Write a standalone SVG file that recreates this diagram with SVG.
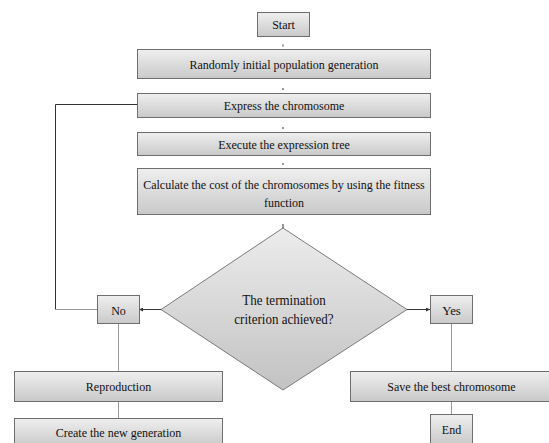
<svg xmlns="http://www.w3.org/2000/svg" width="549" height="443" viewBox="0 0 549 443">
<defs>
<linearGradient id="g" x1="0" y1="0" x2="0" y2="1">
<stop offset="0" stop-color="#efefef"/>
<stop offset="1" stop-color="#c9c9c9"/>
</linearGradient>
<linearGradient id="gd" x1="0" y1="0" x2="0" y2="1">
<stop offset="0" stop-color="#ececec"/>
<stop offset="1" stop-color="#c2c2c2"/>
</linearGradient>
<marker id="ah" markerWidth="4" markerHeight="4" refX="4" refY="2" orient="auto" markerUnits="userSpaceOnUse">
<path d="M0,0 L4,2 L0,4 z" fill="#333"/>
</marker>
<style>
.b{fill:url(#g);stroke:#6e6e6e;stroke-width:1}
.d{fill:url(#gd);stroke:#7a7a7a;stroke-width:1}
.t{font-family:"Liberation Serif","Times New Roman",serif;font-size:13.5px;fill:#111;text-anchor:middle}
.t13{font-family:"Liberation Serif","Times New Roman",serif;font-size:14px;fill:#111;text-anchor:middle}
.c{fill:none;stroke:#333;stroke-width:1}
.cl{fill:none;stroke:#999;stroke-width:1}
</style>
</defs>
<rect width="549" height="443" fill="#ffffff"/>
<g id="connectors">
<line class="c" x1="283" y1="44.5" x2="283" y2="46.5"/>
<line class="c" x1="283" y1="88" x2="283" y2="90"/>
<line class="c" x1="283" y1="127" x2="283" y2="129"/>
<line class="c" x1="283" y1="163" x2="283" y2="165"/>
<line class="c" x1="283" y1="224" x2="283" y2="228"/>
<polyline class="c" points="137,104.5 55.5,104.5 55.5,309.5"/>
<line class="cl" x1="55.5" y1="309.5" x2="97" y2="309.5"/>
<line class="c" x1="161" y1="309.5" x2="139" y2="309.5" marker-end="url(#ah)"/>
<line class="c" x1="407" y1="309.5" x2="430" y2="309.5" marker-end="url(#ah)"/>
<line class="cl" x1="118.5" y1="323" x2="118.5" y2="371"/>
<line class="cl" x1="118.5" y1="401" x2="118.5" y2="418"/>
<line class="cl" x1="451.5" y1="323" x2="451.5" y2="371"/>
<line class="cl" x1="451.5" y1="401" x2="451.5" y2="414"/>
</g>
<g id="start">
<rect class="b" x="257.5" y="12.5" width="52" height="24"/>
<text class="t" x="283.5" y="29" textLength="22.7" lengthAdjust="spacingAndGlyphs">Start</text>
</g>
<g id="random">
<rect class="b" x="137.5" y="49.5" width="293" height="29"/>
<text class="t" x="284" y="68.5" textLength="189" lengthAdjust="spacingAndGlyphs">Randomly initial population generation</text>
</g>
<g id="express">
<rect class="b" x="137.5" y="93.5" width="293" height="24"/>
<text class="t" x="284" y="110" textLength="120.6" lengthAdjust="spacingAndGlyphs">Express the chromosome</text>
</g>
<g id="execute">
<rect class="b" x="137.5" y="132.5" width="293" height="23"/>
<text class="t" x="284" y="148.5" textLength="131.6" lengthAdjust="spacingAndGlyphs">Execute the expression tree</text>
</g>
<g id="calculate">
<rect class="b" x="137.5" y="168.5" width="293" height="46"/>
<text class="t" x="284" y="188.5" textLength="281.6" lengthAdjust="spacingAndGlyphs">Calculate the cost of the chromosomes by using the fitness</text>
<text class="t" x="284" y="206.5" textLength="40" lengthAdjust="spacingAndGlyphs">function</text>
</g>
<g id="decision">
<polygon class="d" points="283,228 407,309.5 283,390 161,309.5"/>
<text class="t13" x="284" y="305" textLength="83.4" lengthAdjust="spacingAndGlyphs">The termination</text>
<text class="t13" x="284" y="324" textLength="99.3" lengthAdjust="spacingAndGlyphs">criterion achieved?</text>
</g>
<g id="no">
<rect class="b" x="97.5" y="295.5" width="42" height="28"/>
<text class="t" x="118.5" y="314.5" textLength="14.7" lengthAdjust="spacingAndGlyphs">No</text>
</g>
<g id="yes">
<rect class="b" x="430.5" y="295.5" width="42" height="28"/>
<text class="t" x="451.5" y="314.5" textLength="18.7" lengthAdjust="spacingAndGlyphs">Yes</text>
</g>
<g id="reproduction">
<rect class="b" x="14.5" y="371.5" width="208" height="30"/>
<text class="t" x="118.5" y="391" textLength="65.3" lengthAdjust="spacingAndGlyphs">Reproduction</text>
</g>
<g id="create">
<rect class="b" x="14.5" y="418.5" width="208" height="28"/>
<text class="t" x="118.5" y="436.5" textLength="125.6" lengthAdjust="spacingAndGlyphs">Create the new generation</text>
</g>
<g id="save">
<rect class="b" x="350.5" y="371.5" width="203" height="30"/>
<text class="t" x="451.5" y="391" textLength="128.3" lengthAdjust="spacingAndGlyphs">Save the best chromosome</text>
</g>
<g id="end">
<rect class="b" x="430.5" y="414.5" width="42" height="30"/>
<text class="t" x="451.5" y="433.5" textLength="19.3" lengthAdjust="spacingAndGlyphs">End</text>
</g>
</svg>
